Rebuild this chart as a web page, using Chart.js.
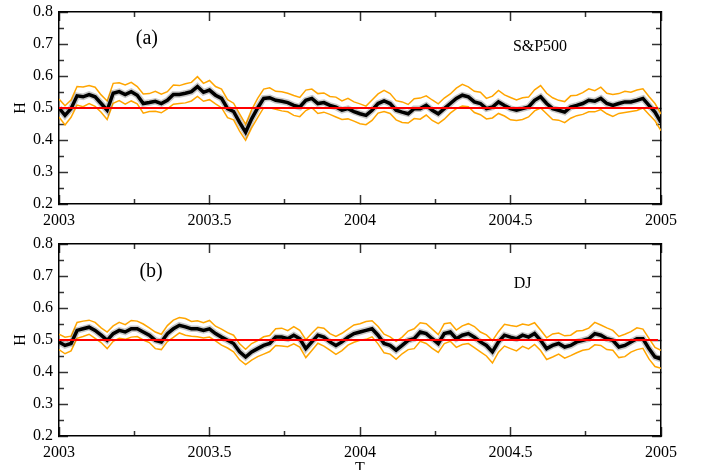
<!DOCTYPE html>
<html>
<head>
<meta charset="utf-8">
<script src="https://cdn.jsdelivr.net/npm/chart.js@4.4.1/dist/chart.umd.min.js"></script>
<style>
  html, body { margin: 0; padding: 0; background: #fff; overflow: hidden; }
  #wrap { position: relative; width: 701px; height: 470px; }
  canvas { position: absolute; left: 0; }
  #chartA { top: 0; }
  #chartB { top: 232px; }
</style>
</head>
<body>
<div id="wrap">
  <canvas id="chartA" width="701" height="232"></canvas>
  <canvas id="chartB" width="701" height="246"></canvas>
</div>
<script>
// H(t) sampled every 0.02 year starting at 2003.0
const T_START = 2003;
const T_STEP = 0.02;

// (a) S&P500 - Hurst exponent and half width of the orange band
const hSP = [
  0.500, 0.477, 0.498, 0.538, 0.535, 0.542, 0.535, 0.514, 0.493, 0.546,
  0.551, 0.542, 0.551, 0.540, 0.514, 0.517, 0.521, 0.514, 0.524, 0.542,
  0.542, 0.546, 0.551, 0.567, 0.549, 0.556, 0.540, 0.530, 0.498, 0.489,
  0.455, 0.424, 0.466, 0.500, 0.530, 0.532, 0.524, 0.521, 0.517, 0.508,
  0.503, 0.524, 0.530, 0.514, 0.517, 0.508, 0.503, 0.493, 0.498, 0.489,
  0.482, 0.477, 0.493, 0.514, 0.522, 0.514, 0.493, 0.487, 0.482, 0.498,
  0.498, 0.508, 0.493, 0.482, 0.498, 0.514, 0.530, 0.540, 0.535, 0.519,
  0.514, 0.498, 0.503, 0.519, 0.508, 0.498, 0.493, 0.498, 0.503, 0.524,
  0.535, 0.514, 0.498, 0.493, 0.487, 0.503, 0.508, 0.514, 0.524, 0.521,
  0.530, 0.514, 0.508, 0.514, 0.519, 0.519, 0.524, 0.530, 0.508, 0.487,
  0.455
];
const errSP = [
  0.028, 0.030, 0.027, 0.029, 0.031, 0.028, 0.030, 0.027, 0.029, 0.031,
  0.028, 0.030, 0.029, 0.027, 0.030, 0.028, 0.031, 0.029, 0.027, 0.030,
  0.028, 0.030, 0.029, 0.031, 0.028, 0.030, 0.027, 0.029, 0.028, 0.026,
  0.027, 0.025, 0.028, 0.030, 0.029, 0.031, 0.028, 0.030, 0.029, 0.031,
  0.030, 0.032, 0.029, 0.031, 0.030, 0.028, 0.031, 0.029, 0.032, 0.030,
  0.031, 0.029, 0.032, 0.030, 0.033, 0.031, 0.030, 0.032, 0.029, 0.031,
  0.033, 0.030, 0.032, 0.031, 0.033, 0.030, 0.032, 0.034, 0.031, 0.033,
  0.035, 0.032, 0.034, 0.036, 0.033, 0.035, 0.032, 0.034, 0.031, 0.033,
  0.035, 0.032, 0.034, 0.031, 0.033, 0.035, 0.032, 0.034, 0.036, 0.033,
  0.035, 0.032, 0.034, 0.031, 0.033, 0.030, 0.032, 0.030, 0.028, 0.027,
  0.026
];

// (b) DJ
const hDJ = [
  0.494, 0.483, 0.489, 0.530, 0.535, 0.540, 0.530, 0.515, 0.499, 0.520,
  0.530, 0.525, 0.535, 0.535, 0.525, 0.515, 0.499, 0.494, 0.520, 0.535,
  0.546, 0.541, 0.535, 0.535, 0.530, 0.535, 0.520, 0.509, 0.499, 0.489,
  0.463, 0.447, 0.463, 0.473, 0.483, 0.489, 0.509, 0.509, 0.504, 0.515,
  0.504, 0.473, 0.494, 0.515, 0.509, 0.494, 0.483, 0.494, 0.509, 0.520,
  0.525, 0.530, 0.535, 0.515, 0.489, 0.483, 0.468, 0.483, 0.499, 0.504,
  0.525, 0.520, 0.504, 0.489, 0.520, 0.525, 0.504, 0.515, 0.520, 0.509,
  0.494, 0.483, 0.463, 0.494, 0.515, 0.509, 0.504, 0.515, 0.509, 0.520,
  0.499, 0.473, 0.483, 0.489, 0.478, 0.483, 0.494, 0.499, 0.504, 0.520,
  0.515, 0.504, 0.499, 0.478, 0.483, 0.494, 0.504, 0.504, 0.473, 0.447,
  0.440
];
const errDJ = [
  0.024, 0.026, 0.023, 0.025, 0.024, 0.022, 0.025, 0.023, 0.026, 0.024,
  0.025, 0.023, 0.026, 0.024, 0.025, 0.023, 0.026, 0.024, 0.025, 0.027,
  0.024, 0.026, 0.023, 0.025, 0.024, 0.026, 0.023, 0.025, 0.024, 0.026,
  0.025, 0.024, 0.026, 0.025, 0.027, 0.025, 0.026, 0.028, 0.025, 0.027,
  0.026, 0.028, 0.027, 0.025, 0.028, 0.026, 0.028, 0.027, 0.025, 0.027,
  0.026, 0.028, 0.025, 0.027, 0.029, 0.027, 0.028, 0.026, 0.029, 0.031,
  0.029, 0.031, 0.030, 0.028, 0.031, 0.029, 0.027, 0.029, 0.031, 0.033,
  0.031, 0.033, 0.035, 0.032, 0.034, 0.036, 0.038, 0.035, 0.037, 0.034,
  0.032, 0.034, 0.036, 0.033, 0.035, 0.032, 0.034, 0.031, 0.033, 0.035,
  0.032, 0.034, 0.031, 0.033, 0.035, 0.032, 0.034, 0.030, 0.032, 0.030,
  0.028
];

// reference line H = 0.5
const H_REF = 0.5;
const REF_START = 2003;
const REF_END = 2004.99;

// axis ticks
const xMajor = [2003, 2003.5, 2004, 2004.5, 2005];
const xMinor = [2003.25, 2003.75, 2004.25, 2004.75];
const yMajor = [0.2, 0.3, 0.4, 0.5, 0.6, 0.7, 0.8];
const yMinor = [0.25, 0.35, 0.45, 0.55, 0.65, 0.75];

const FONT = "'Liberation Serif', 'Times New Roman', serif";
Chart.defaults.font.family = FONT;
Chart.defaults.color = '#000';

const MAJOR_LEN = 9;
const MINOR_LEN = 5;

function toPoints(values, err, sign) {
    return values.map((v, i) => ({
        x: T_START + i * T_STEP,
        y: err ? v + sign * err[i] : v
    }));
}

// inward tick marks: negative tick length, no grid lines inside the plot
function tickGrid(len) {
    return {
        display: true,
        drawOnChartArea: false,
        drawTicks: true,
        tickLength: -len,
        tickWidth: 1.5,
        tickColor: '#333'
    };
}

function zeroPadding(s) {
    s.paddingTop = 0;
    s.paddingBottom = 0;
    s.paddingLeft = 0;
    s.paddingRight = 0;
}

// extra axis used only for the frame edge and its tick marks
function edgeAxis(axis, position, values, len, weight, withBorder) {
    return {
        type: 'linear',
        axis: axis,
        position: position,
        weight: weight,
        min: axis === 'x' ? 2003 : 0.2,
        max: axis === 'x' ? 2005 : 0.8,
        afterBuildTicks: s => { s.ticks = values.map(v => ({ value: v })); },
        afterFit: s => {
            if (axis === 'x') s.height = 0; else s.width = 0;
            zeroPadding(s);
        },
        ticks: { display: false },
        grid: tickGrid(len),
        border: { display: withBorder, width: 1.5, color: '#000' },
        title: { display: false }
    };
}

// panel texts placed in data coordinates
const panelText = {
    id: 'panelText',
    afterDraw(chart, args, opts) {
        const ctx = chart.ctx;
        const x = chart.scales.x, y = chart.scales.y;
        ctx.save();
        ctx.fillStyle = '#000';
        ctx.textAlign = 'center';
        ctx.textBaseline = 'middle';
        (opts.labels || []).forEach(l => {
            ctx.font = l.size + 'px ' + FONT;
            ctx.fillText(l.text, x.getPixelForValue(l.x), y.getPixelForValue(l.y));
        });
        ctx.restore();
    }
};

function createPanel(canvasId, hValues, errValues, labels, showT, axisHeight) {
    const ctx = document.getElementById(canvasId).getContext('2d');
    const axes = { xAxisID: 'x', yAxisID: 'y' };
    return new Chart(ctx, {
        type: 'line',
        data: {
            datasets: [{
                ...axes,
                label: 'H = 0.5',
                data: [{ x: REF_START, y: H_REF }, { x: REF_END, y: H_REF }],
                borderColor: '#ff0000',
                borderWidth: 2
            }, {
                ...axes,
                label: 'H',
                data: toPoints(hValues),
                borderColor: '#000',
                borderWidth: 3.5
            }, {
                ...axes,
                label: 'H shade',
                data: toPoints(hValues),
                borderColor: 'rgba(0, 0, 0, 0.22)',
                borderWidth: 6.5
            }, {
                ...axes,
                label: 'H + err',
                data: toPoints(hValues, errValues, 1),
                borderColor: '#ffa500',
                borderWidth: 1.5
            }, {
                ...axes,
                label: 'H - err',
                data: toPoints(hValues, errValues, -1),
                borderColor: '#ffa500',
                borderWidth: 1.5
            }]
        },
        options: {
            responsive: false,
            animation: false,
            parsing: false,
            elements: {
                point: { radius: 0 },
                line: { tension: 0, fill: false }
            },
            layout: { padding: { top: 12, right: 40, left: 0, bottom: 0 } },
            plugins: {
                legend: { display: false },
                tooltip: { enabled: false },
                panelText: { labels: labels }
            },
            scales: {
                x: {
                    type: 'linear',
                    position: 'bottom',
                    weight: 0,
                    min: 2003,
                    max: 2005,
                    afterBuildTicks: s => { s.ticks = xMajor.map(v => ({ value: v })); },
                    afterFit: s => { s.height = axisHeight; },
                    ticks: {
                        autoSkip: false,
                        maxRotation: 0,
                        padding: 7 + MAJOR_LEN,
                        font: { size: 16 },
                        callback: v => String(v)
                    },
                    grid: tickGrid(MAJOR_LEN),
                    border: { display: true, width: 1.5, color: '#000' },
                    title: {
                        display: showT,
                        text: 'T',
                        font: { size: 16 },
                        padding: { top: 0, bottom: 0 }
                    }
                },
                xMinorBottom: edgeAxis('x', 'bottom', xMinor, MINOR_LEN, -1, false),
                xTop: edgeAxis('x', 'top', xMajor, MAJOR_LEN, 0, true),
                xMinorTop: edgeAxis('x', 'top', xMinor, MINOR_LEN, -1, false),
                y: {
                    type: 'linear',
                    position: 'left',
                    weight: 0,
                    min: 0.2,
                    max: 0.8,
                    afterBuildTicks: s => { s.ticks = yMajor.map(v => ({ value: v })); },
                    afterFit: s => { s.width = 59; s.paddingTop = 0; s.paddingBottom = 0; },
                    ticks: {
                        padding: 6 + MAJOR_LEN,
                        font: { size: 16 },
                        callback: v => v.toFixed(1)
                    },
                    grid: tickGrid(MAJOR_LEN),
                    border: { display: true, width: 1.5, color: '#000' },
                    title: {
                        display: true,
                        text: 'H',
                        font: { size: 16 },
                        padding: { top: 11, bottom: 0 }
                    }
                },
                yMinorLeft: edgeAxis('y', 'left', yMinor, MINOR_LEN, -1, false),
                yRight: edgeAxis('y', 'right', yMajor, MAJOR_LEN, 0, true),
                yMinorRight: edgeAxis('y', 'right', yMinor, MINOR_LEN, -1, false)
            }
        },
        plugins: [panelText]
    });
}

createPanel('chartA', hSP, errSP, [
    { text: '(a)', x: 2003.292, y: 0.716, size: 20 },
    { text: 'S&P500', x: 2004.598, y: 0.690, size: 16 }
], false, 28);

createPanel('chartB', hDJ, errDJ, [
    { text: '(b)', x: 2003.306, y: 0.7125, size: 20 },
    { text: 'DJ', x: 2004.540, y: 0.675, size: 16 }
], true, 42);
</script>
</body>
</html>
